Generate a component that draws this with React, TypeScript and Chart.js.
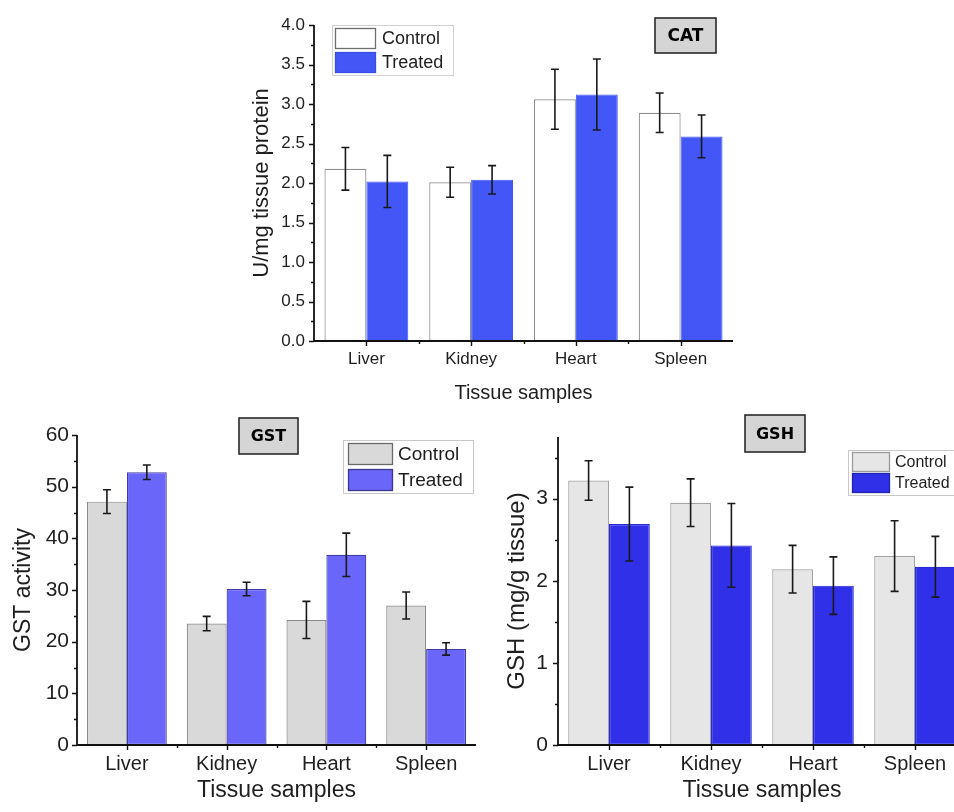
import React, { useEffect, useRef } from 'react';
import { Chart, registerables } from 'chart.js';

Chart.register(...registerables);

// ---------------- data ----------------
const categories = ['Liver', 'Kidney', 'Heart', 'Spleen'];
const seriesLabels = ['Control', 'Treated'];
const xAxisTitle = 'Tissue samples';

const catControl = [2.18, 2.01, 3.06, 2.89];
const catControlErr = [0.27, 0.19, 0.38, 0.25];
const catTreated = [2.02, 2.04, 3.12, 2.59];
const catTreatedErr = [0.33, 0.18, 0.45, 0.27];

const gstControl = [47.1, 23.5, 24.2, 27.0];
const gstControlErr = [2.3, 1.4, 3.6, 2.6];
const gstTreated = [52.8, 30.2, 36.8, 18.6];
const gstTreatedErr = [1.4, 1.3, 4.2, 1.2];

const gshControl = [3.22, 2.95, 2.14, 2.3];
const gshControlErr = [0.24, 0.29, 0.29, 0.43];
const gshTreated = [2.69, 2.43, 1.94, 2.17];
const gshTreatedErr = [0.45, 0.51, 0.35, 0.37];

// ---------------- styling ----------------
const FONT = '"Liberation Sans", Arial, Helvetica, sans-serif';
const TAG_FONT = '"DejaVu Sans", "Liberation Sans", Arial, sans-serif';
const TEXT = '#1e1e1e';
const H = 812;

type PanelSpec = {
  width: number;
  plot: { L: number; T: number; R: number; B: number };
  padLeft: number;
  yMin: number;
  yMax: number;
  yMajor: number;
  yMinor: number;
  yDecimals: number;
  yTitle: string;
  yTitleSize: number;
  yTitlePad: number;
  yTickSize: number;
  yTickPad: number;
  xTickSize: number;
  xTickPad: number;
  xTitleSize: number;
  xAxisHeight: number;
  values: number[][];
  errors: number[][];
  fills: string[];
  borders: string[];
  borderWidths: number[];
  legend: {
    x: number; y: number; w: number; h: number;
    swX: number; swW: number; swH: number; rows: number[];
    textX: number; size: number; frame: string; swBorders: string[];
  };
  tag: { text: string; x: number; y: number; w: number; h: number; size: number };
};

function Panel({ spec }: { spec: PanelSpec }) {
  const ref = useRef<HTMLCanvasElement | null>(null);

  useEffect(() => {
    const s = spec;
    const canvas = ref.current;
    if (!canvas) return;
    const yW = s.plot.L - s.padLeft;
    const padBottom = H - s.plot.B - s.xAxisHeight;

    const overlay = {
      id: 'overlay',
      afterDatasetsDraw(chart: any) {
        const ctx: CanvasRenderingContext2D = chart.ctx;
        const xs = chart.scales.x;
        const ys = chart.scales.y;
        const { left: L, right: R, top: T, bottom: B } = chart.chartArea;
        ctx.save();

        // error bars
        s.values.forEach((vals, d) => {
          const meta = chart.getDatasetMeta(d);
          meta.data.forEach((el: any, i: number) => {
            const v = vals[i];
            const e = s.errors[d][i];
            const x = el.x;
            const y1 = ys.getPixelForValue(v + e);
            const y2 = ys.getPixelForValue(v - e);
            const cap = 4;
            ctx.strokeStyle = '#1a1a1a';
            ctx.lineWidth = 1.6;
            ctx.beginPath();
            ctx.moveTo(x, y1);
            ctx.lineTo(x, y2);
            ctx.moveTo(x - cap, y1);
            ctx.lineTo(x + cap, y1);
            ctx.moveTo(x - cap, y2);
            ctx.lineTo(x + cap, y2);
            ctx.stroke();
          });
        });

        // axes
        ctx.strokeStyle = '#111';
        ctx.lineWidth = 1.8;
        ctx.beginPath();
        ctx.moveTo(L, T);
        ctx.lineTo(L, B);
        ctx.lineTo(R, B);
        ctx.stroke();

        ctx.lineWidth = 1.4;
        ctx.beginPath();
        const n = Math.round((s.yMax - s.yMin) / s.yMinor);
        for (let k = 0; k <= n; k++) {
          const v = s.yMin + k * s.yMinor;
          if (v > s.yMax + 1e-9) break;
          const r = v / s.yMajor;
          const major = Math.abs(r - Math.round(r)) < 1e-6;
          const py = Math.round(ys.getPixelForValue(v)) + 0.5;
          ctx.moveTo(L, py);
          ctx.lineTo(L - (major ? 5 : 3), py);
        }
        const count = categories.length;
        for (let i = 0; i < count; i++) {
          const px = Math.round(xs.getPixelForValue(i)) + 0.5;
          ctx.moveTo(px, B);
          ctx.lineTo(px, B + 5);
          if (i < count - 1) {
            const pb = Math.round((xs.getPixelForValue(i) + xs.getPixelForValue(i + 1)) / 2) + 0.5;
            ctx.moveTo(pb, B);
            ctx.lineTo(pb, B + 3);
          }
        }
        ctx.stroke();

        // legend
        const lg = s.legend;
        ctx.fillStyle = '#ffffff';
        ctx.fillRect(lg.x, lg.y, lg.w, lg.h);
        ctx.strokeStyle = lg.frame;
        ctx.lineWidth = 1;
        ctx.strokeRect(lg.x + 0.5, lg.y + 0.5, lg.w, lg.h);
        chart.data.datasets.forEach((ds: any, d: number) => {
          const ry = lg.rows[d];
          ctx.fillStyle = ds.backgroundColor;
          ctx.fillRect(lg.swX, ry, lg.swW, lg.swH);
          ctx.strokeStyle = lg.swBorders[d];
          ctx.lineWidth = 1.3;
          ctx.strokeRect(lg.swX + 0.5, ry + 0.5, lg.swW - 1, lg.swH - 1);
          ctx.fillStyle = TEXT;
          ctx.font = `${lg.size}px ${FONT}`;
          ctx.textAlign = 'left';
          ctx.textBaseline = 'middle';
          ctx.fillText(ds.label, lg.textX, ry + lg.swH / 2 + 1);
        });

        // tag box
        const tg = s.tag;
        ctx.fillStyle = '#d5d5d5';
        ctx.fillRect(tg.x, tg.y, tg.w, tg.h);
        ctx.strokeStyle = '#2a2a2a';
        ctx.lineWidth = 1.6;
        ctx.strokeRect(tg.x, tg.y, tg.w, tg.h);
        ctx.fillStyle = '#000';
        ctx.font = `bold ${tg.size}px ${TAG_FONT}`;
        ctx.textAlign = 'center';
        ctx.textBaseline = 'middle';
        ctx.fillText(tg.text, tg.x + tg.w / 2, tg.y + tg.h / 2 + 1);

        ctx.restore();
      },
    };

    const chart = new Chart(canvas, {
      type: 'bar',
      data: {
        labels: categories,
        datasets: seriesLabels.map((lab, d) => ({
          label: lab,
          data: s.values[d],
          backgroundColor: s.fills[d],
          borderColor: s.borders[d],
          borderWidth: s.borderWidths[d],
          borderSkipped: false,
          categoryPercentage: 0.8,
          barPercentage: 1.0,
        })),
      },
      options: {
        responsive: false,
        animation: false,
        devicePixelRatio: 1,
        layout: {
          padding: {
            left: s.padLeft,
            top: s.plot.T,
            right: s.width - s.plot.R,
            bottom: padBottom,
          },
        },
        plugins: {
          legend: { display: false },
          tooltip: { enabled: false },
        },
        scales: {
          x: {
            type: 'category',
            offset: true,
            grid: { display: false, drawTicks: false },
            border: { display: false },
            ticks: {
              padding: s.xTickPad,
              color: TEXT,
              font: { family: FONT, size: s.xTickSize },
              maxRotation: 0,
              autoSkip: false,
            },
            title: {
              display: true,
              text: xAxisTitle,
              color: TEXT,
              font: { family: FONT, size: s.xTitleSize },
              padding: { top: 0, bottom: 0 },
            },
            afterFit: (sc: any) => {
              sc.height = s.xAxisHeight;
            },
          },
          y: {
            type: 'linear',
            min: s.yMin,
            max: s.yMax,
            grid: { display: false, drawTicks: false },
            border: { display: false },
            ticks: {
              stepSize: s.yMajor,
              includeBounds: false,
              padding: s.yTickPad,
              color: TEXT,
              font: { family: FONT, size: s.yTickSize },
              callback: (v: any) => Number(v).toFixed(s.yDecimals),
            },
            title: {
              display: true,
              text: s.yTitle,
              color: TEXT,
              font: { family: FONT, size: s.yTitleSize },
              padding: { top: s.yTitlePad, bottom: 0 },
            },
            afterFit: (sc: any) => {
              sc.width = yW;
            },
          },
        },
      },
      plugins: [overlay],
    } as any);

    return () => chart.destroy();
  }, [spec]);

  return (
    <canvas
      ref={ref}
      width={spec.width}
      height={H}
      style={{ position: 'absolute', left: 0, top: 0, width: spec.width, height: H }}
    />
  );
}

const catSpec: PanelSpec = {
  width: 954,
  plot: { L: 314, T: 25, R: 733, B: 341 },
  padLeft: 234,
  yMin: 0,
  yMax: 4,
  yMajor: 0.5,
  yMinor: 0.25,
  yDecimals: 1,
  yTitle: 'U/mg tissue protein',
  yTitleSize: 22,
  yTitlePad: 15,
  yTickSize: 17,
  yTickPad: 9,
  xTickSize: 17,
  xTickPad: 8,
  xTitleSize: 20,
  xAxisHeight: 64,
  values: [catControl, catTreated],
  errors: [catControlErr, catTreatedErr],
  fills: ['#ffffff', '#4257f5'],
  borders: ['#8e8e8e', '#4257f5'],
  borderWidths: [1.2, 1],
  legend: {
    x: 332, y: 25, w: 121, h: 50,
    swX: 335, swW: 41, swH: 21, rows: [28, 52],
    textX: 382, size: 18, frame: '#d0d0d0', swBorders: ['#6f6f6f', '#3a4fe0'],
  },
  tag: { text: 'CAT', x: 655, y: 18, w: 61, h: 35, size: 17 },
};

const gstSpec: PanelSpec = {
  width: 954,
  plot: { L: 77, T: 435, R: 476, B: 745 },
  padLeft: 0,
  yMin: 0,
  yMax: 60,
  yMajor: 10,
  yMinor: 5,
  yDecimals: 0,
  yTitle: 'GST activity',
  yTitleSize: 23,
  yTitlePad: 10,
  yTickSize: 21,
  yTickPad: 8,
  xTickSize: 20,
  xTickPad: 7,
  xTitleSize: 23,
  xAxisHeight: 59,
  values: [gstControl, gstTreated],
  errors: [gstControlErr, gstTreatedErr],
  fills: ['#d9d9d9', '#6b66fa'],
  borders: ['#8a8a8a', '#3f3ca8'],
  borderWidths: [1.2, 1.2],
  legend: {
    x: 343, y: 440, w: 130, h: 53,
    swX: 348, swW: 45, swH: 22, rows: [443, 469],
    textX: 398, size: 19, frame: '#c8c8c8', swBorders: ['#6a6a6a', '#3b3890'],
  },
  tag: { text: 'GST', x: 239, y: 418, w: 59, h: 36, size: 16 },
};

const gshSpec: PanelSpec = {
  width: 980,
  plot: { L: 558, T: 437, R: 966, B: 745 },
  padLeft: 480,
  yMin: 0,
  yMax: 3.75,
  yMajor: 1,
  yMinor: 0.5,
  yDecimals: 0,
  yTitle: 'GSH (mg/g tissue)',
  yTitleSize: 24,
  yTitlePad: 23,
  yTickSize: 21,
  yTickPad: 10,
  xTickSize: 20,
  xTickPad: 7,
  xTitleSize: 23,
  xAxisHeight: 59,
  values: [gshControl, gshTreated],
  errors: [gshControlErr, gshTreatedErr],
  fills: ['#e6e6e6', '#2f30e8'],
  borders: ['#a2a2a2', '#2a2bd0'],
  borderWidths: [1.2, 1.2],
  legend: {
    x: 848, y: 450, w: 120, h: 45,
    swX: 852, swW: 38, swH: 20, rows: [452, 473],
    textX: 895, size: 16, frame: '#c8c8c8', swBorders: ['#9a9a9a', '#2324b0'],
  },
  tag: { text: 'GSH', x: 745, y: 415, w: 60, h: 37, size: 16 },
};

export default function App() {
  return (
    <div
      style={{
        position: 'absolute',
        left: 0,
        top: 0,
        width: 954,
        height: H,
        overflow: 'hidden',
        background: '#ffffff',
      }}
    >
      <Panel spec={catSpec} />
      <Panel spec={gstSpec} />
      <Panel spec={gshSpec} />
    </div>
  );
}
